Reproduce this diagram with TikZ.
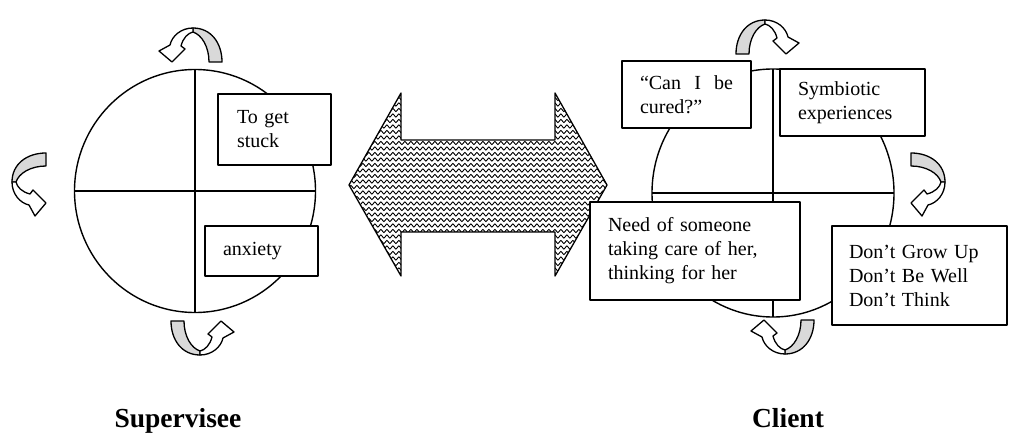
\documentclass[tikz,border=0pt]{standalone}
\usepackage{fontspec}
\setmainfont{Liberation Serif}
\usetikzlibrary{shapes.geometric,decorations.pathmorphing}
\newcommand\ribbonshape{%
  \filldraw[ribbonback] (0,0) .. controls (18,0) and (29,15) .. (29,34) -- (16,34) .. controls (16,19) and (9,7) .. (0,4) -- cycle;
  \filldraw[ribbonfront] (0,0) .. controls (-12,0) and (-21,8) .. (-23,17) -- (-34,23) -- (-21,34) -- (-8,21) -- (-12,18) .. controls (-10,10) and (-5,5) .. (0,4) -- cycle;
}
\tikzset{
  ribbonback/.style={fill=gray!30, line width=1.3pt},
  ribbonfront/.style={fill=white, line width=1.3pt},
  textbox/.style={draw, fill=white, line width=1.3pt, inner ysep=0pt, outer sep=0pt, anchor=north west, align=left, font=\fontsize{20}{24}\selectfont},
  quarter/.style={draw, ellipse, line width=1.4pt, inner sep=0pt, outer sep=0pt},
  sidelabel/.style={font=\bfseries\fontsize{27.5}{33}\selectfont, anchor=base},
  waves/.style={decorate, decoration={snake, segment length=6pt, amplitude=1.7pt}, line width=0.9pt}
}
\begin{document}
\begin{tikzpicture}[x=1pt,y=-1pt,line join=round,line width=1.3pt]
\useasboundingbox (0,0) rectangle (1024,446);
% circles
\node[quarter, minimum width=241, minimum height=243] (sup) at (195,191) {};
\draw (sup.north) -- (sup.south) (sup.west) -- (sup.east);
\node[quarter, minimum width=242, minimum height=248] (cli) at (773,193) {};
\draw (cli.north) -- (cli.south) (cli.west) -- (cli.east);
% ribbon arrows
\begin{scope}[shift={(193,28)}] \ribbonshape \end{scope}
\begin{scope}[shift={(765,20)}, xscale=-1] \ribbonshape \end{scope}
\begin{scope}[shift={(12,182)}, rotate=90] \ribbonshape \end{scope}
\begin{scope}[shift={(945,182)}, xscale=-1, rotate=90] \ribbonshape \end{scope}
\begin{scope}[shift={(200,355)}, rotate=180] \ribbonshape \end{scope}
\begin{scope}[shift={(785,354)}, yscale=-1] \ribbonshape \end{scope}
% double arrow
\begin{scope}
\clip (349,185) -- (401,93) -- (401,140) -- (555,140) -- (555,93) -- (607,185) -- (555,276) -- (555,232) -- (401,232) -- (401,276) -- cycle;
\foreach \yy in {88,93.5,...,282} \draw[waves] (343,\yy) -- (613,\yy);
\end{scope}
\draw (349,185) -- (401,93) -- (401,140) -- (555,140) -- (555,93) -- (607,185) -- (555,276) -- (555,232) -- (401,232) -- (401,276) -- cycle;
% boxes
\node[textbox, minimum width=113, minimum height=71, text width=75, inner xsep=19] (stuck) at (218,94) {To get\\stuck};
\node[textbox, minimum width=113, minimum height=50, text width=77, inner xsep=18] (anx) at (205,226) {anxiety};
\node[textbox, minimum width=129, minimum height=67, text width=93, inner xsep=18] (cured) at (622,61) {\hbox to 93pt{“Can\hfil I\hfil be}\\cured?”};
\node[textbox, minimum width=145, minimum height=67, text width=109, inner xsep=18] (symb) at (780,69) {Symbiotic\\experiences};
\node[textbox, minimum width=210, minimum height=98, text width=174, inner xsep=18] (need) at (590,202) {Need of someone\\taking care of her,\\thinking for her};
\node[textbox, minimum width=175, minimum height=99, text width=141, inner xsep=17] (dont) at (832,226) {Don’t Grow Up\\Don’t Be Well\\Don’t Think};
% labels
\node[sidelabel] (suplab) at (178,427) {Supervisee};
\node[sidelabel] (clilab) at (788,427) {Client};
\end{tikzpicture}
\end{document}
